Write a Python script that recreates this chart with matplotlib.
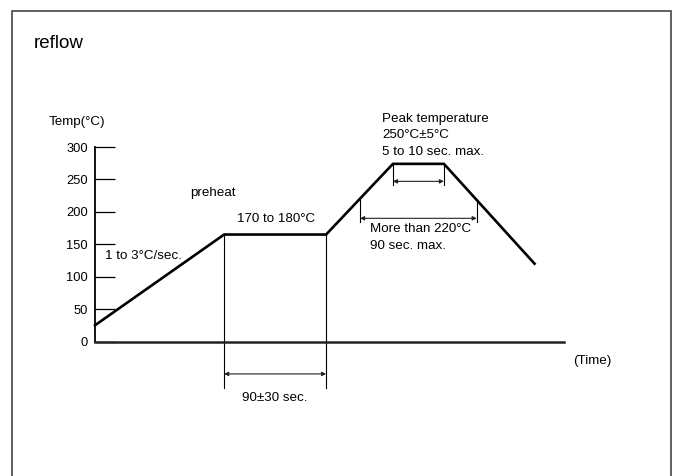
import matplotlib
matplotlib.use("Agg")
import matplotlib.pyplot as plt
from matplotlib.patches import Rectangle

plt.rcParams['font.family'] = ['Liberation Sans', 'DejaVu Sans']

# reflow profile (schematic)
time_s = [0, 114, 204, 263, 308, 388]
temp_c = [25, 165, 165, 274, 274, 120]

temp_ticks = [0, 50, 100, 150, 200, 250, 300]
tick_labels = [str(t) for t in temp_ticks]

# dimension lines: (t_left, t_right, top_left, top_right, bottom, arrow level)
dims = [
    (114, 204, 165, 165, -72, -50),     # preheat 90+-30 sec
    (263, 308, 274, 274, 241, 247),     # peak 5 to 10 sec
    (234, 337, 218, 218, 184, 190),     # >220C 90 sec
]

W, H = 675, 476
FS = 9.6
fig = plt.figure(figsize=(W / 100, H / 100), dpi=100)


def px(x, y):
    return x / W, 1 - y / H


# axes box: y spine at x=95, 0 at y=341.5, 300 at y=147, x end at 564
ax = fig.add_axes([95 / W, (H - 341.5) / H, (564 - 95) / W, (341.5 - 147) / H])
ax.set_xlim(0, 414)
ax.set_ylim(0, 300)

ax.plot(time_s, temp_c, color='black', lw=1.9, clip_on=False, solid_joinstyle='miter')

for tl, tr, yl, yr, yb, ya in dims:
    ax.plot([tl, tl], [yl, yb], color='black', lw=0.8, clip_on=False)
    ax.plot([tr, tr], [yr, yb], color='black', lw=0.8, clip_on=False)
    ax.annotate('', xy=(tl, ya), xytext=(tr, ya), annotation_clip=False,
                arrowprops=dict(arrowstyle='<|-|>', color='#222222', lw=0.8,
                                mutation_scale=6, shrinkA=0, shrinkB=0))

for s in ['top', 'right']:
    ax.spines[s].set_visible(False)
ax.spines['bottom'].set_linewidth(1.8)
ax.spines['bottom'].set_color('#222222')
ax.spines['left'].set_linewidth(1.3)
ax.set_xticks([])
ax.set_yticks(temp_ticks)
ax.set_yticklabels(tick_labels, fontsize=9.3)
ax.tick_params(axis='y', direction='in', length=14.4, width=0.9, pad=5)
for i, tk in enumerate(ax.yaxis.get_major_ticks()):
    tk.tick1line.set_color('#777777' if i % 2 == 0 else 'black')
ax.patch.set_visible(False)

# frame round the picture
fig.patches.append(Rectangle(px(12, 500), (671 - 12) / W, (500 - 10.5) / H,
                             transform=fig.transFigure, fill=False,
                             edgecolor='#444444', lw=1.2))

fig.text(*px(34, 43), 'reflow', fontsize=13.5, va='center', ha='left')
fig.text(*px(49, 122), 'Temp(°C)', fontsize=FS, va='center', ha='left')
fig.text(*px(190, 193), 'preheat', fontsize=FS, va='center', ha='left')
fig.text(*px(237, 219), '170 to 180°C', fontsize=FS, va='center', ha='left')
fig.text(*px(105, 256), '1 to 3°C/sec.', fontsize=FS, va='center', ha='left')
fig.text(*px(275, 398), '90±30 sec.', fontsize=FS, va='center', ha='center')
fig.text(*px(382, 119), 'Peak temperature', fontsize=FS, va='center', ha='left')
fig.text(*px(382, 135.5), '250°C±5°C', fontsize=FS, va='center', ha='left')
fig.text(*px(382, 152), '5 to 10 sec. max.', fontsize=FS, va='center', ha='left')
fig.text(*px(370, 229), 'More than 220°C', fontsize=FS, va='center', ha='left')
fig.text(*px(370, 245.5), '90 sec. max.', fontsize=FS, va='center', ha='left')
fig.text(*px(573, 361), '(Time)', fontsize=FS, va='center', ha='left')

fig.savefig('out.png', dpi=100)
